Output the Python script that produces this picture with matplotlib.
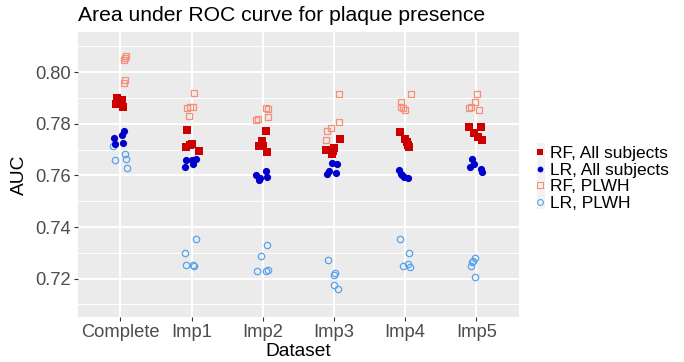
import numpy as np
import matplotlib as mpl
mpl.use('Agg')
import matplotlib.pyplot as plt
from matplotlib.lines import Line2D
from matplotlib.patches import Rectangle

plt.rcParams['font.family'] = ['Liberation Sans', 'DejaVu Sans']

datasets = ['Complete', 'Imp1', 'Imp2', 'Imp3', 'Imp4', 'Imp5']

# AUC values, 5 per dataset
rf_all = [[0.7901, 0.7894, 0.7878, 0.7880, 0.7865],
          [0.7777, 0.7719, 0.7710, 0.7693, 0.7722],
          [0.7774, 0.7733, 0.7716, 0.7715, 0.7692],
          [0.7740, 0.7708, 0.7697, 0.7684, 0.7693],
          [0.7768, 0.7741, 0.7729, 0.7710, 0.7719],
          [0.7786, 0.7787, 0.7764, 0.7749, 0.7738]]
lr_all = [[0.7772, 0.7755, 0.7746, 0.7723, 0.7725],
          [0.7661, 0.7661, 0.7665, 0.7633, 0.7643],
          [0.7617, 0.7600, 0.7591, 0.7594, 0.7581],
          [0.7648, 0.7643, 0.7616, 0.7607, 0.7609],
          [0.7620, 0.7602, 0.7591, 0.7605, 0.7595],
          [0.7662, 0.7633, 0.7643, 0.7626, 0.7613]]
rf_plwh = [[0.8062, 0.8048, 0.7971, 0.7957, 0.8055],
           [0.7920, 0.7863, 0.7865, 0.7866, 0.7831],
           [0.7861, 0.7858, 0.7825, 0.7818, 0.7816],
           [0.7916, 0.7809, 0.7783, 0.7773, 0.7738],
           [0.7916, 0.7884, 0.7865, 0.7862, 0.7852],
           [0.7916, 0.7884, 0.7865, 0.7860, 0.7852]]
lr_plwh = [[0.7716, 0.7684, 0.7661, 0.7665, 0.7629],
           [0.7354, 0.7299, 0.7252, 0.7252, 0.7248],
           [0.7330, 0.7286, 0.7229, 0.7230, 0.7233],
           [0.7272, 0.7220, 0.7213, 0.7176, 0.7161],
           [0.7352, 0.7300, 0.7248, 0.7256, 0.7246],
           [0.7279, 0.7269, 0.7263, 0.7250, 0.7205]]

# horizontal jitter (category units) as seen in the picture
jit_rf_all = [[-0.049, 0.025, -0.067, -0.007, 0.039],
              [-0.062, -0.028, -0.080, 0.098, 0.000],
              [0.052, -0.014, -0.046, 0.004, 0.066],
              [0.080, -0.004, -0.107, -0.022, -0.014],
              [-0.069, -0.004, 0.024, 0.048, 0.038],
              [-0.100, 0.063, -0.030, 0.027, 0.087]]
jit_lr_all = [[0.045, 0.017, -0.091, -0.073, 0.039],
              [-0.080, 0.000, 0.060, -0.090, 0.022],
              [0.052, -0.088, -0.042, 0.066, -0.046],
              [-0.022, 0.048, -0.070, -0.098, 0.024],
              [-0.079, -0.046, 0.038, -0.060, -0.010],
              [-0.063, -0.086, -0.039, 0.073, 0.083]]
jit_rf_plwh = [[0.077, 0.053, 0.063, 0.045, 0.070],
               [0.028, -0.070, -0.024, 0.022, -0.038],
               [0.052, 0.080, 0.080, -0.070, -0.098],
               [0.076, 0.066, -0.037, -0.098, -0.107],
               [0.076, -0.055, -0.060, -0.032, 0.001],
               [0.013, -0.025, -0.081, -0.100, 0.041]]
jit_lr_plwh = [[-0.101, 0.063, -0.081, 0.077, 0.087],
               [0.065, -0.094, -0.080, 0.014, 0.032],
               [0.056, -0.018, -0.084, 0.042, 0.074],
               [-0.080, 0.010, -0.004, -0.004, 0.062],
               [-0.069, 0.052, -0.032, 0.038, 0.072],
               [-0.021, -0.049, -0.067, -0.081, -0.025]]

labels = ['RF, All subjects', 'LR, All subjects', 'RF, PLWH', 'LR, PLWH']

W, H = 684, 362
fig = plt.figure(figsize=(W/100, H/100), dpi=100)
ax = fig.add_axes([77.7/W, 1-317.3/H, (519-77.7)/W, (317.3-32.3)/H])
ax.set_facecolor('#EBEBEB')
for s in ax.spines.values():
    s.set_visible(False)

def draw(vals, jit, **kw):
    xs, ys = [], []
    for i, (v, j) in enumerate(zip(vals, jit)):
        xs += list(i + np.array(j))
        ys += list(v)
    ax.plot(xs, ys, linestyle='none', **kw)

draw(lr_plwh, jit_lr_plwh, marker='o', ms=4.6, mfc='none', mec='#5AA2EC', mew=0.9)
draw(rf_plwh, jit_rf_plwh, marker='s', ms=5.0, mfc='none', mec='#F4907A', mew=0.9)
draw(lr_all, jit_lr_all, marker='o', ms=5.2, mfc='#0000CC', mec='#0000CC', mew=0)
draw(rf_all, jit_rf_all, marker='s', ms=5.6, mfc='#CC0000', mec='#CC0000', mew=0)

ax.set_xlim(-0.6, 5.6)
ax.set_ylim(0.705, 0.8155)
ax.set_xticks(range(len(datasets)))
ax.set_xticklabels(datasets)
ax.set_yticks([0.72, 0.74, 0.76, 0.78, 0.80])
ax.set_yticks([0.71, 0.73, 0.75, 0.77, 0.79, 0.81], minor=True)
ax.yaxis.set_major_formatter(mpl.ticker.FormatStrFormatter('%.2f'))
ax.grid(which='major', color='white', lw=1.4)
ax.grid(which='minor', axis='y', color='white', lw=0.7)
ax.set_axisbelow(True)
ax.tick_params(which='major', length=3, width=0.8, color='#333333',
               labelcolor='#4D4D4D', labelsize=13.2, pad=2)
ax.tick_params(which='minor', length=0)

ax.set_xlabel('Dataset', fontsize=13.8, labelpad=1)
ax.set_ylabel('AUC', fontsize=13.8, labelpad=5)
fig.text(77.7/W, 1-21/H, 'Area under ROC curve for plaque presence',
         fontsize=15.2, va='baseline', ha='left')

# legend
fig.patches.append(Rectangle((537/W, 1-209/H), 8/W, 66/H, transform=fig.transFigure,
                             facecolor='#F2F2F2', edgecolor='none'))
handles = [Line2D([], [], ls='none', marker='s', ms=4.2, mfc='#CC0000', mec='#CC0000', mew=0),
           Line2D([], [], ls='none', marker='o', ms=4.2, mfc='#0000CC', mec='#0000CC', mew=0),
           Line2D([], [], ls='none', marker='s', ms=4.2, mfc='none', mec='#F4907A', mew=0.8),
           Line2D([], [], ls='none', marker='o', ms=4.2, mfc='none', mec='#5AA2EC', mew=0.8)]
fig.legend(handles, labels, loc='upper left', bbox_to_anchor=(533/W, 1-146/H),
           frameon=False, fontsize=12.5, handlelength=0.8, handletextpad=0.2,
           labelspacing=0.08, borderpad=0, borderaxespad=0)

fig.savefig('out.png', dpi=100)
